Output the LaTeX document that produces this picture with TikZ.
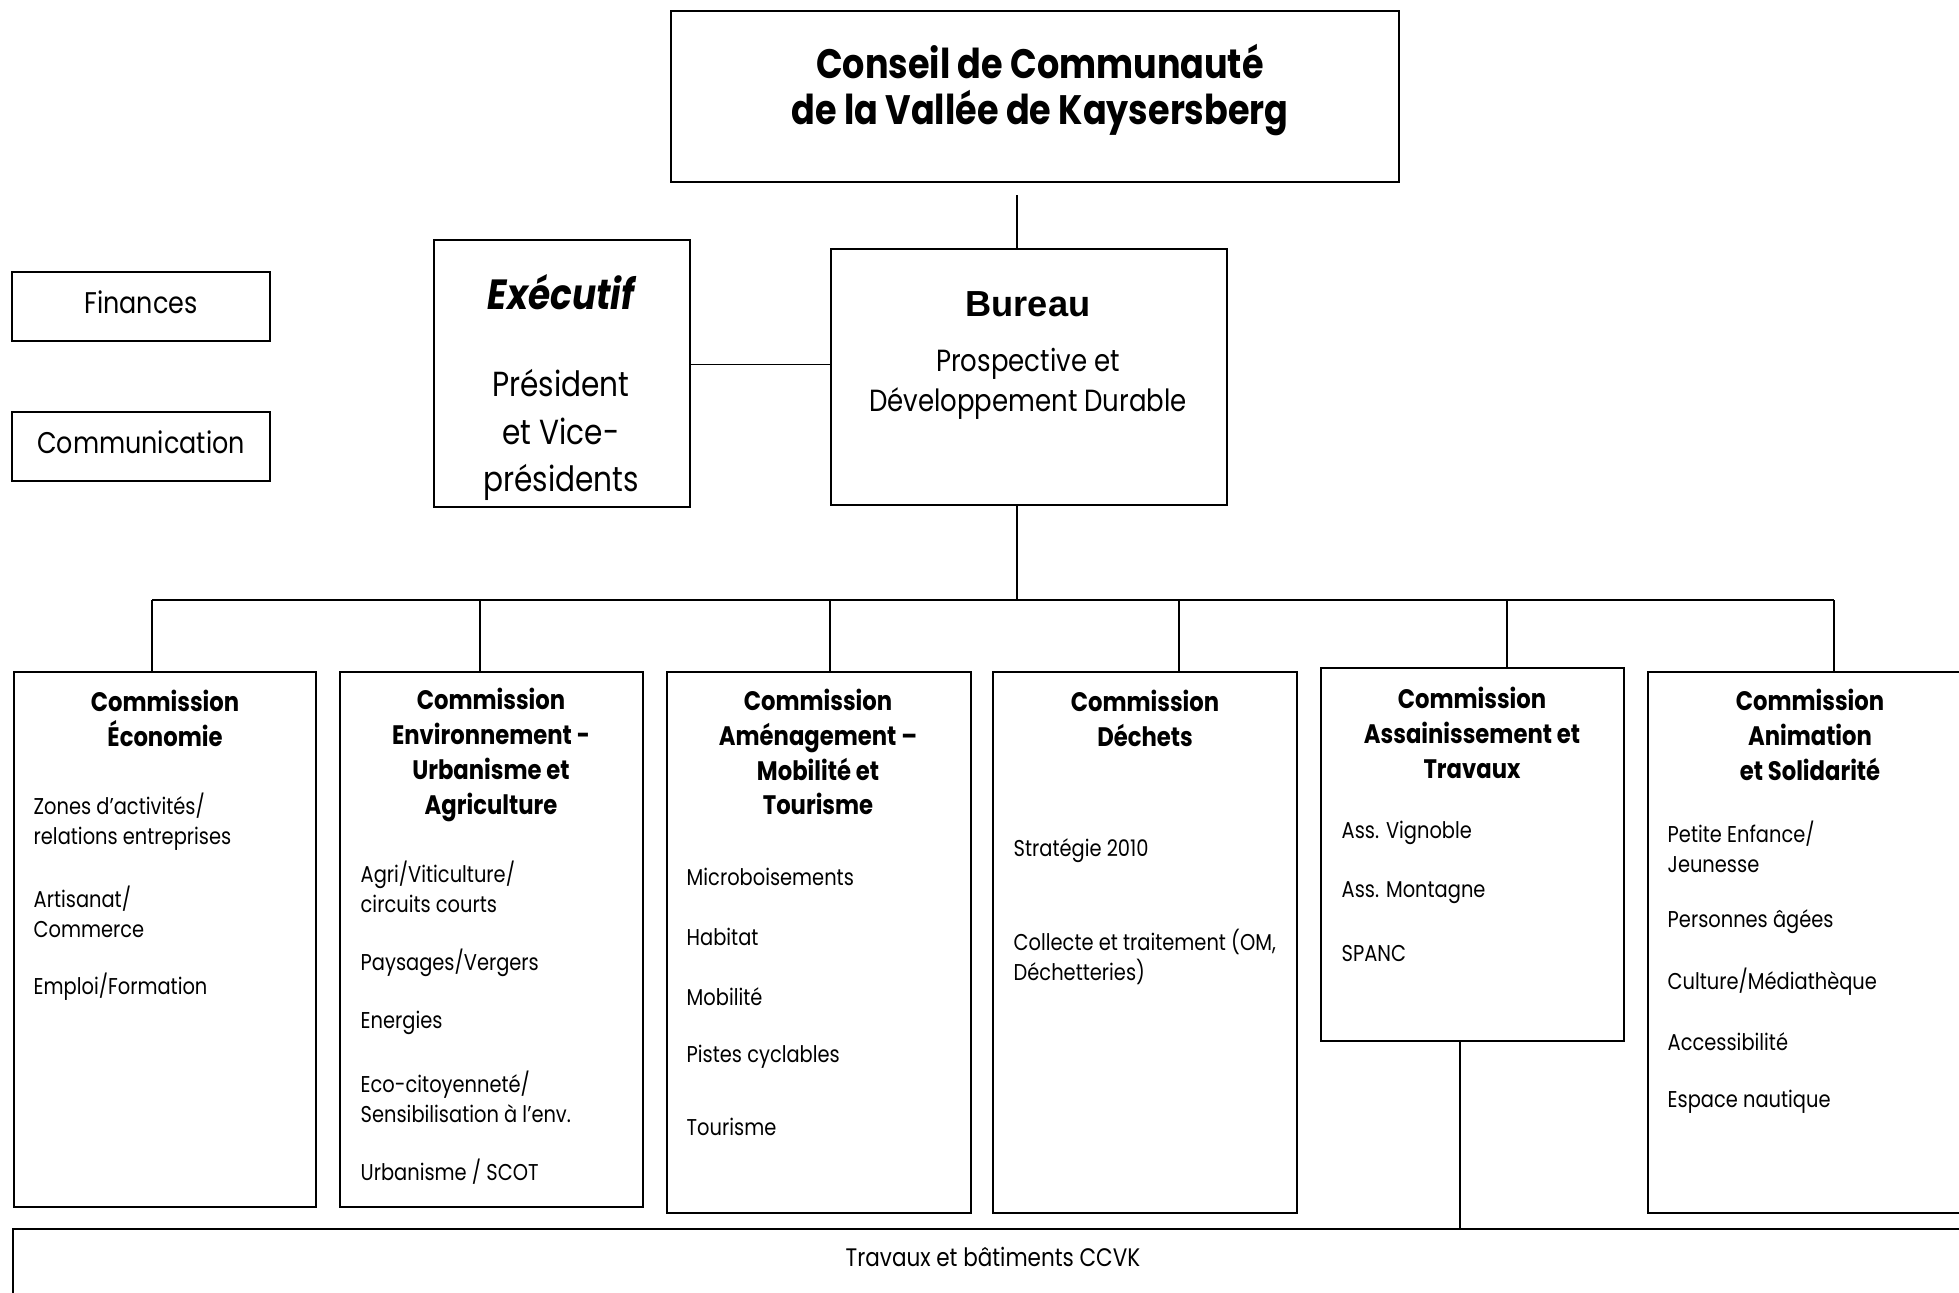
\documentclass[tikz,border=0pt]{standalone}
\usepackage{fontspec}
\setmainfont{Poppins}[FakeStretch=0.85]
\newfontfamily\arialfont{Liberation Sans}
\usetikzlibrary{positioning}

\tikzset{
  box/.style={draw, line width=0.6pt, inner sep=0pt},
  link/.style={line width=0.45pt},
  item/.style={inner sep=0pt, anchor=west, align=left, font=\fontsize{6.5}{8.5}\selectfont},
  title/.style={inner sep=0pt, align=center, font=\bfseries\fontsize{7.6}{9.9}\selectfont},
  side/.style={box, minimum width=2.58cm, minimum height=0.69cm, text depth=0.5ex, font=\fontsize{8.5}{11}\selectfont},
}

\begin{document}
\begin{tikzpicture}[x=0.01cm, y=-0.01cm]
\useasboundingbox (0,0) rectangle (1959,1293);

\node[box, minimum width=7.28cm, minimum height=1.71cm] (conseil) at (1035,96.5) {};
\node[inner sep=0pt, align=center, font=\bfseries\fontsize{11.7}{13.1}\selectfont] (conseiltxt) at (1040,90)
  {Conseil de Communauté\\de la Vallée de Kaysersberg};

\node[box, minimum width=2.56cm, minimum height=2.67cm] (executif) at (562,373.5) {};
\node[inner sep=0pt, font=\bfseries\itshape\fontsize{12}{13}\selectfont] (exectitle) at (561,292) {Exécutif};
\node[inner sep=0pt, align=center, font=\fontsize{9.9}{13.4}\selectfont] (exectxt) at (561,435)
  {Président\\et Vice-\\présidents};

\node[box, minimum width=3.96cm, minimum height=2.56cm] (bureau) at (1029,377) {};
\node[inner sep=0pt, font=\arialfont\bfseries\fontsize{10.3}{12}\selectfont] (bureautitle) at (1028,304) {Bureau};
\node[inner sep=0pt, align=center, font=\fontsize{8.7}{11.4}\selectfont] (bureautxt) at (1028,384)
  {Prospective et\\Développement Durable};

\node[side] (finances) at (141,306.5) {Finances};
\node[side] (communication) at (141,446.5) {Communication};

\node[box, minimum width=3.02cm, minimum height=5.35cm] (cEco) at (165,939.5) {};
\node[box, minimum width=3.03cm, minimum height=5.35cm] (cEnv) at (491.5,939.5) {};
\node[box, minimum width=3.04cm, minimum height=5.41cm] (cAme) at (819,942.5) {};
\node[box, minimum width=3.04cm, minimum height=5.41cm] (cDec) at (1145,942.5) {};
\node[box, minimum width=3.03cm, minimum height=3.73cm] (cAss) at (1472.5,854.5) {};
\node[box, minimum width=3.24cm, minimum height=5.41cm] (cAni) at (1810,942.5) {};
\node[box, minimum width=19.58cm, minimum height=0.81cm] (travaux) at (993,1269.5) {};
\node[inner sep=0pt, font=\fontsize{7.2}{9}\selectfont] (travauxtxt) at (993,1257) {Travaux et bâtiments CCVK};

\node[title] (tEco) at (165,718.5) {Commission\\Économie};
\node[title] (tEnv) at (491,755) {Commission\\Environnement -\\Urbanisme et\\Agriculture};
\node[title] (tAme) at (818,752) {Commission\\Aménagement –\\Mobilité et\\Tourisme};
\node[title] (tDec) at (1145,718.5) {Commission\\Déchets};
\node[title] (tAss) at (1472,733) {Commission\\Assainissement et\\Travaux};
\node[title] (tAni) at (1810,735) {Commission\\Animation\\et Solidarité};

\node[item] (eco1) at (33,822) {Zones d'activités/\\relations entreprises};
\node[item] (eco2) at (33,912) {Artisanat/\\Commerce};
\node[item] (eco3) at (33,987) {Emploi/Formation};

\node[item] (env1) at (360,887) {Agri/Viticulture/\\circuits courts};
\node[item] (env2) at (360,963) {Paysages/Vergers};
\node[item] (env3) at (360,1023) {Energies};
\node[item] (env4) at (360,1097) {Eco-citoyenneté/\\Sensibilisation à l'env.};
\node[item] (env5) at (360,1172) {Urbanisme / SCOT};

\node[item] (ame1) at (686,877) {Microboisements};
\node[item] (ame2) at (686,937) {Habitat};
\node[item] (ame3) at (686,997) {Mobilité};
\node[item] (ame4) at (686,1057) {Pistes cyclables};
\node[item] (ame5) at (686,1127) {Tourisme};

\node[item] (dec1) at (1013,851) {Stratégie 2010};
\node[item] (dec2) at (1013,957) {Collecte et traitement (OM,\\Déchetteries)};

\node[item] (ass1) at (1341,833) {Ass. Vignoble};
\node[item] (ass2) at (1341,893) {Ass. Montagne};
\node[item] (ass3) at (1341,953) {SPANC};

\node[item] (ani1) at (1667,847) {Petite Enfance/\\Jeunesse};
\node[item] (ani2) at (1667,922) {Personnes âgées};
\node[item] (ani3) at (1667,982) {Culture/Médiathèque};
\node[item] (ani4) at (1667,1042) {Accessibilité};
\node[item] (ani5) at (1667,1102) {Espace nautique};

\coordinate (spine) at (1017,600);
\coordinate (d1) at (152,600);
\coordinate (d2) at (480,600);
\coordinate (d3) at (830,600);
\coordinate (d4) at (1179,600);
\coordinate (d5) at (1507,600);
\coordinate (d6) at (1834,600);
\coordinate (trv) at (1460,0);

\draw[link] ([yshift=-0.12cm]conseil.south -| spine) -- (bureau.north -| spine);
\draw[link] ([yshift=0.09cm]executif.east) -- ([yshift=0.09cm]executif.east -| bureau.west);
\draw[link] (bureau.south -| spine) -- (spine);
\draw[link] (d1) -- (d6);
\draw[link] (d1) -- (d1 |- cEco.north);
\draw[link] (d2) -- (d2 |- cEnv.north);
\draw[link] (d3) -- (d3 |- cAme.north);
\draw[link] (d4) -- (d4 |- cDec.north);
\draw[link] (d5) -- (d5 |- cAss.north);
\draw[link] (d6) -- (d6 |- cAni.north);
\draw[link] (cAss.south -| trv) -- (travaux.north -| trv);
\end{tikzpicture}
\end{document}
